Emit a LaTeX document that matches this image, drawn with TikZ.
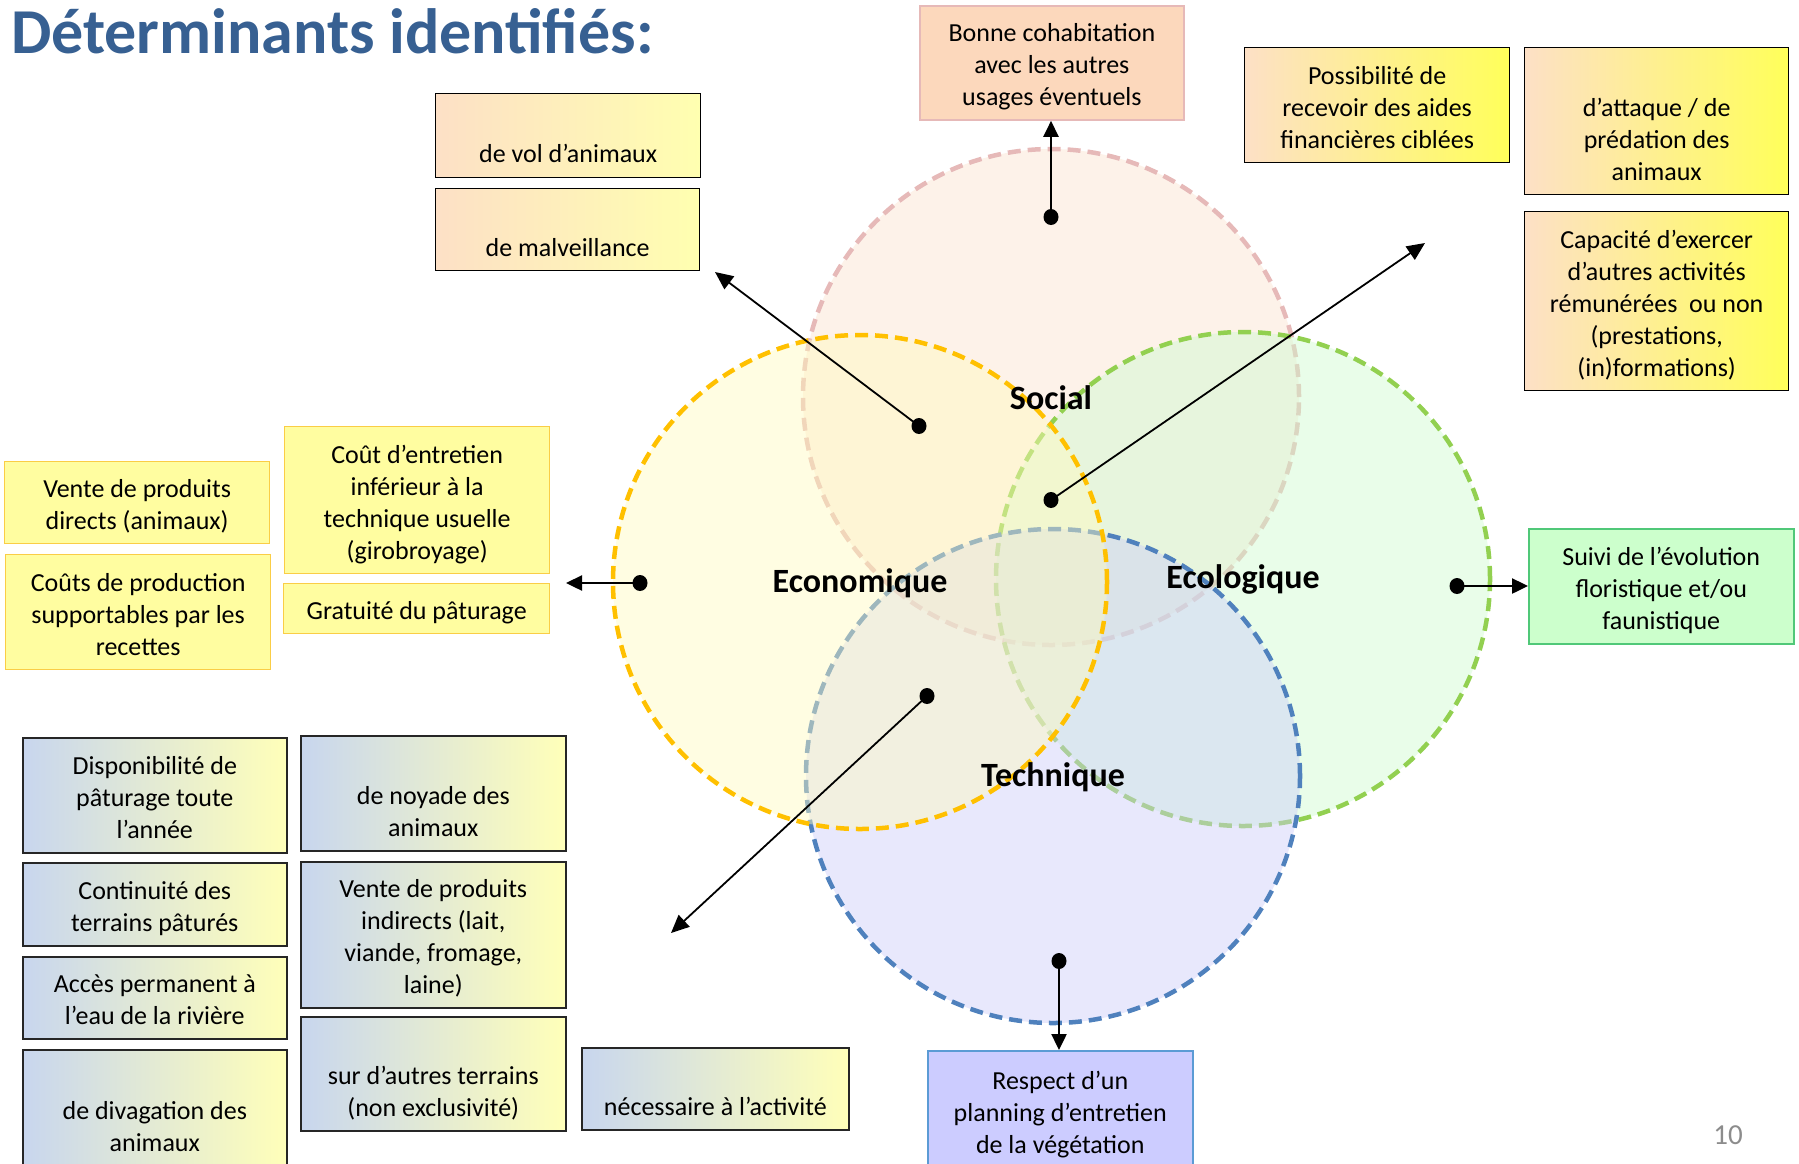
\documentclass[tikz,border=0pt]{standalone}
\usepackage{fontspec}
\setmainfont{Carlito}
\usetikzlibrary{arrows.meta}
\definecolor{titleblue}{RGB}{55,96,146}
\definecolor{socB}{RGB}{230,185,184}
\definecolor{socF}{RGB}{250,226,206}
\definecolor{ecoB}{RGB}{255,192,0}
\definecolor{ecoF}{RGB}{255,250,190}
\definecolor{ecolB}{RGB}{146,208,80}
\definecolor{ecolF}{RGB}{206,250,206}
\definecolor{tecB}{RGB}{79,129,189}
\definecolor{tecF}{RGB}{204,204,249}
\definecolor{peachL}{RGB}{253,224,198}
\definecolor{yelPale}{RGB}{255,255,176}
\definecolor{yelStrong}{RGB}{255,255,90}
\definecolor{cohabF}{RGB}{252,216,188}
\definecolor{ylF}{RGB}{255,253,160}
\definecolor{ylB}{RGB}{250,205,70}
\definecolor{blueL}{RGB}{200,214,238}
\definecolor{yelR}{RGB}{255,255,185}
\definecolor{greenF}{RGB}{204,255,204}
\definecolor{greenB}{RGB}{80,200,120}
\definecolor{lavF}{RGB}{204,204,255}
\definecolor{lavB}{RGB}{91,155,213}
\definecolor{pageg}{RGB}{140,140,140}
\newcommand\Ls{\rule[-5pt]{0pt}{32pt}}
\tikzset{
  txt/.style={font=\fontsize{26}{32}\selectfont, align=center, inner sep=0pt, anchor=north west},
  pyA/.style={txt, draw=black, line width=1.3pt, left color=peachL, right color=yelPale},
  pyB/.style={txt, draw=black, line width=1.3pt, left color=peachL, right color=yelStrong},
  cohab/.style={txt, draw=socB, line width=1.8pt, fill=cohabF},
  ylbox/.style={txt, draw=ylB, line width=1.3pt, fill=ylF},
  bybox/.style={txt, draw=black!85, line width=1.6pt, left color=blueL, right color=yelR},
  grbox/.style={txt, draw=greenB, line width=1.5pt, fill=greenF},
  lvbox/.style={txt, draw=lavB, line width=1.5pt, fill=lavF},
  venn/.style={line width=4.5pt, dash pattern=on 13pt off 7pt, fill opacity=0.45},
  vlabel/.style={font=\bfseries\fontsize{34}{40}\selectfont, inner sep=0pt},
  conn/.style={line width=2.4pt, -{Triangle[length=16pt,width=15pt]}},
  connthin/.style={line width=1.8pt, -{Triangle[length=18pt,width=16pt]}},
  dot/.style={fill=black},
}
\begin{document}
\begin{tikzpicture}[x=1pt,y=-1pt]
\useasboundingbox (0,0) rectangle (1799,1163);
% Venn circles (drawing order: Social, Ecologique, Technique, Economique)
\draw[venn, draw=socB, fill=socF] (1051,397) circle[radius=248pt];
\draw[venn, draw=ecolB, fill=ecolF] (1243,579) circle[radius=247pt];
\draw[venn, draw=tecB, fill=tecF] (1053,776) circle[radius=247pt];
\draw[venn, draw=ecoB, fill=ecoF] (860,582) circle[radius=247pt];
\node[vlabel] (lsoc) at (1051,398) {Social};
\node[vlabel] (leco) at (860,583) {Economique};
\node[vlabel] (lecol) at (1243,579) {Ecologique};
\node[vlabel] (ltec) at (1053,777) {Technique};
% title and page number
\node[anchor=base west, inner sep=0pt, font=\bfseries\fontsize{64}{70}\selectfont, text=titleblue] (title) at (11,53) {Déterminants identifiés:};
\node[font=\fontsize{29}{34}\selectfont, text=pageg, inner sep=0pt] (pg) at (1728,1135) {10};
% top boxes
\node[pyA, minimum width=265pt, minimum height=84pt] (vol) at (435,93) {\Ls\\\Ls de vol d’animaux};
\node[pyA, minimum width=264pt, minimum height=82pt] (malv) at (435,188) {\Ls\\\Ls de malveillance};
\node[cohab, minimum width=264pt, minimum height=114pt] (cohabit) at (919,5) {\Ls Bonne cohabitation\\\Ls avec les autres\\\Ls usages éventuels};
\node[pyB, minimum width=265pt, minimum height=115pt] (aides) at (1244,47) {\Ls Possibilité de\\\Ls recevoir des aides\\\Ls financières ciblées};
\node[pyB, minimum width=264pt, minimum height=147pt] (attaque) at (1524,47) {\Ls\\\Ls d’attaque / de\\\Ls prédation des\\\Ls animaux};
\node[pyB, minimum width=264pt, minimum height=179pt] (capa) at (1524,211) {\Ls Capacité d’exercer\\\Ls d’autres activités\\\Ls rémunérées\ \ ou non\\\Ls (prestations,\\\Ls (in)formations)};
% left yellow boxes
\node[ylbox, minimum width=265pt, minimum height=82pt] (vente1) at (4,461) {\Ls Vente de produits\\\Ls directs (animaux)};
\node[ylbox, minimum width=265pt, minimum height=115pt] (couts) at (5,554) {\Ls Coûts de production\\\Ls supportables par les\\\Ls recettes};
\node[ylbox, minimum width=265pt, minimum height=147pt] (entretien) at (284,426) {\Ls Coût d’entretien\\\Ls inférieur à la\\\Ls technique usuelle\\\Ls (girobroyage)};
\node[ylbox, minimum width=266pt, minimum height=50pt] (gratuite) at (283,583) {\Ls Gratuité du pâturage};
% bottom-left gradient boxes
\node[bybox, minimum width=264pt, minimum height=115pt] (dispo) at (22,737) {\Ls Disponibilité de\\\Ls pâturage toute\\\Ls l’année};
\node[bybox, minimum width=264pt, minimum height=83pt] (conti) at (22,862) {\Ls Continuité des\\\Ls terrains pâturés};
\node[bybox, minimum width=264pt, minimum height=82pt] (acces) at (22,956) {\Ls Accès permanent à\\\Ls l’eau de la rivière};
\node[bybox, minimum width=264pt, minimum height=118pt] (divag) at (22,1049) {\Ls\\\Ls de divagation des\\\Ls animaux};
\node[bybox, minimum width=265pt, minimum height=115pt] (noyade) at (300,735) {\Ls\\\Ls de noyade des\\\Ls animaux};
\node[bybox, minimum width=265pt, minimum height=146pt] (vente2) at (300,861) {\Ls Vente de produits\\\Ls indirects (lait,\\\Ls viande, fromage,\\\Ls laine)};
\node[bybox, minimum width=265pt, minimum height=114pt] (autres) at (300,1016) {\Ls\\\Ls sur d’autres terrains\\\Ls (non exclusivité)};
\node[bybox, minimum width=267pt, minimum height=82pt] (necess) at (581,1047) {\Ls\\\Ls nécessaire à l’activité};
% right and bottom boxes
\node[grbox, minimum width=265pt, minimum height=115pt] (suivi) at (1528,528) {\Ls Suivi de l’évolution\\\Ls floristique et/ou\\\Ls faunistique};
\node[lvbox, minimum width=265pt, minimum height=120pt] (respect) at (927,1050) {\Ls Respect d’un\\\Ls planning d’entretien\\\Ls de la végétation};
% connector coordinates
\coordinate (dS) at (1051,217);
\coordinate (dC) at (1051,500);
\coordinate (tC) at (1425,243);
\coordinate (dM) at (919,426);
\coordinate (tM) at (715,272);
\coordinate (dE) at (640,583);
\coordinate (tE) at (566,583);
\coordinate (dG) at (1457,586);
\coordinate (dT) at (1059,961);
\coordinate (dD) at (927,696);
\coordinate (tD) at (671,933);
% connectors
\draw[conn] (dS) -- (dS |- cohabit.south);
\draw[connthin] (dC) -- (tC);
\draw[connthin] (dM) -- (tM);
\draw[conn] (dE) -- (tE);
\draw[conn] (dG) -- (dG -| suivi.west);
\draw[conn] (dT) -- (dT |- respect.north);
\draw[connthin] (dD) -- (tD);
% dots at connector origins
\foreach \p in {dS,dC,dM,dE,dG,dT,dD} \fill[dot] (\p) ellipse[x radius=7.5pt, y radius=8pt];
\end{tikzpicture}
\end{document}
